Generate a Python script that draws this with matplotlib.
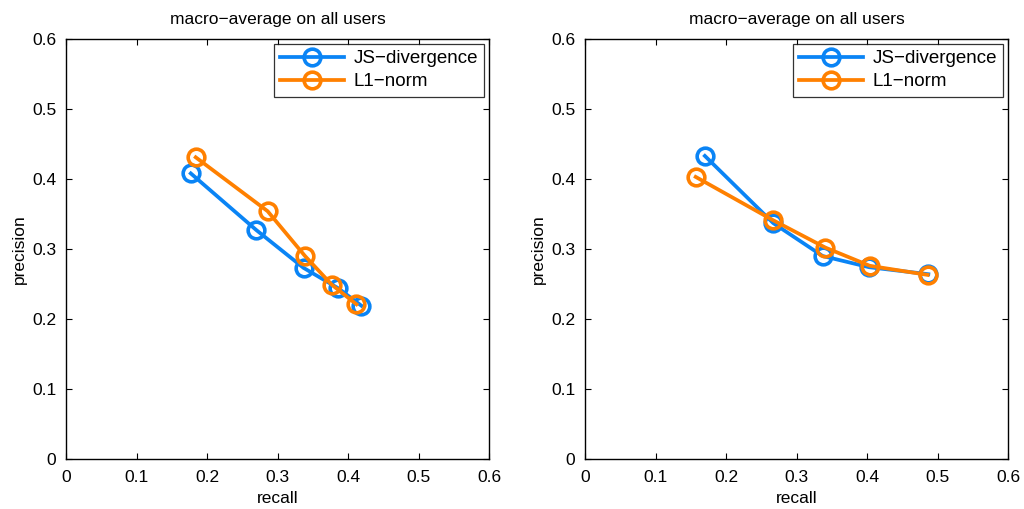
import matplotlib
matplotlib.use('Agg')
import matplotlib.pyplot as plt

plt.rcParams['font.family'] = ['Liberation Sans', 'DejaVu Sans']

# left panel
left_js_recall = [0.177, 0.270, 0.337, 0.386, 0.419]
left_js_prec = [0.408, 0.327, 0.273, 0.244, 0.219]
left_l1_recall = [0.184, 0.286, 0.339, 0.377, 0.412]
left_l1_prec = [0.431, 0.354, 0.290, 0.249, 0.221]

# right panel
right_js_recall = [0.170, 0.267, 0.337, 0.403, 0.487]
right_js_prec = [0.433, 0.337, 0.290, 0.274, 0.264]
right_l1_recall = [0.157, 0.267, 0.341, 0.404, 0.486]
right_l1_prec = [0.403, 0.341, 0.302, 0.276, 0.263]

ticks = [0, 0.1, 0.2, 0.3, 0.4, 0.5, 0.6]
tick_labels = ['0', '0.1', '0.2', '0.3', '0.4', '0.5', '0.6']

blue = '#0a84f5'
orange = '#ff8000'

fig = plt.figure(figsize=(10.24, 5.09), dpi=100)
ax1 = fig.add_axes([66 / 1024, 50 / 509, 423 / 1024, 420 / 509])
ax2 = fig.add_axes([585 / 1024, 50 / 509, 423 / 1024, 420 / 509])

panels = [
    (ax1, left_js_recall, left_js_prec, left_l1_recall, left_l1_prec),
    (ax2, right_js_recall, right_js_prec, right_l1_recall, right_l1_prec),
]

for ax, jx, jy, lx, ly in panels:
    style = dict(linewidth=2.7, marker='o', markersize=12, markerfacecolor='none',
                 markeredgewidth=2.6)
    ax.plot(jx, jy, color=blue, label='JS\u2212divergence', **style)
    ax.plot(lx, ly, color=orange, label='L1\u2212norm', **style)
    ax.set_xlim(0, 0.6)
    ax.set_ylim(0, 0.6)
    ax.set_xticks(ticks)
    ax.set_xticklabels(tick_labels)
    ax.set_yticks(ticks)
    ax.set_yticklabels(tick_labels)
    ax.tick_params(direction='in', top=True, right=True, length=4, width=0.8,
                   labelsize=12.5)
    ax.tick_params(axis='x', pad=8)
    ax.tick_params(axis='y', pad=7)
    for s in ax.spines.values():
        s.set_linewidth(1.0)
    ax.set_xlabel('recall', fontsize=12.5, labelpad=4)
    ax.set_ylabel('precision', fontsize=12.5, labelpad=4)
    ax.set_title('macro\u2212average on all users', fontsize=12.5, pad=11)
    leg = ax.legend(loc='upper right', fontsize=13.5, frameon=True, fancybox=False,
                    edgecolor='black', handlelength=3.4, borderpad=0.35,
                    labelspacing=0.3, handletextpad=0.5, borderaxespad=0.25)
    leg.get_frame().set_linewidth(0.9)

fig.savefig('out.png', dpi=100)
